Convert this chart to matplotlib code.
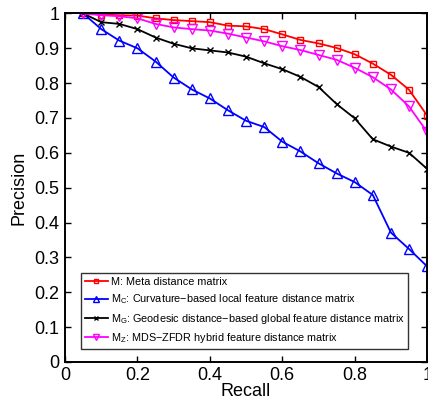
import matplotlib
matplotlib.use("Agg")
import matplotlib.pyplot as plt

plt.rcParams['font.family'] = ['Liberation Sans', 'DejaVu Sans']
plt.rcParams['mathtext.fontset'] = 'custom'
plt.rcParams['mathtext.rm'] = 'Liberation Sans'
plt.rcParams['mathtext.it'] = 'Liberation Sans'

recall = [0.05, 0.10, 0.15, 0.20, 0.25, 0.30, 0.35, 0.40, 0.45, 0.50,
          0.55, 0.60, 0.65, 0.70, 0.75, 0.80, 0.85, 0.90, 0.95, 1.00]

meta = [1.000, 0.997, 0.995, 0.994, 0.986, 0.981, 0.978, 0.975, 0.965, 0.963,
        0.955, 0.940, 0.924, 0.914, 0.901, 0.883, 0.856, 0.824, 0.781, 0.707]
curv = [1.000, 0.955, 0.922, 0.900, 0.862, 0.816, 0.782, 0.756, 0.722, 0.692,
        0.674, 0.632, 0.604, 0.570, 0.541, 0.516, 0.479, 0.371, 0.324, 0.274]
geod = [1.000, 0.975, 0.970, 0.955, 0.931, 0.913, 0.900, 0.894, 0.888, 0.876,
        0.857, 0.840, 0.818, 0.789, 0.740, 0.699, 0.639, 0.618, 0.600, 0.554]
mds = [1.000, 0.995, 0.992, 0.986, 0.970, 0.960, 0.955, 0.951, 0.942, 0.931,
       0.920, 0.906, 0.895, 0.881, 0.867, 0.844, 0.817, 0.782, 0.733, 0.660]

labels = [r'M: Meta distance matrix',
          r'M$_\mathrm{C}$: Curvature$-$based local feature distance matrix',
          r'M$_\mathrm{G}$: Geodesic distance$-$based global feature distance matrix',
          r'M$_\mathrm{Z}$: MDS$-$ZFDR hybrid feature distance matrix']

fig = plt.figure(figsize=(4.28, 4.08), dpi=100)
ax = fig.add_axes([0.152, 0.113, 0.846, 0.854])

ax.plot(recall, meta, color='#ff0000', marker='s', ms=4.5, mfc='none', mew=1.0, lw=1.3, label=labels[0])
ax.plot(recall, curv, color='#0000ff', marker='^', ms=7, mfc='none', mew=1.0, lw=1.3, label=labels[1])
ax.plot(recall, geod, color='#000000', marker='x', ms=4, mew=1.0, lw=1.3, label=labels[2])
ax.plot(recall, mds, color='#ff00ff', marker='v', ms=7, mfc='none', mew=1.0, lw=1.3, label=labels[3])

ax.set_xlim(0, 1)
ax.set_ylim(0, 1)
ax.set_xticks([0, 0.2, 0.4, 0.6, 0.8, 1])
ax.set_xticklabels(['0', '0.2', '0.4', '0.6', '0.8', '1'])
ax.set_yticks([i / 10 for i in range(11)])
ax.set_yticklabels(['0'] + ['%.1f' % (i / 10) for i in range(1, 10)] + ['1'])
ax.tick_params(direction='in', top=True, right=True, labelsize=13, length=4, width=1.0, pad=4)
for s in ax.spines.values():
    s.set_linewidth(1.4)

ax.set_xlabel('Recall', fontsize=13, labelpad=-1)
ax.set_ylabel('Precision', fontsize=13, labelpad=5)

leg = ax.legend(loc='lower left', bbox_to_anchor=(0.044, 0.037), fontsize=7.8,
                frameon=True, fancybox=False, edgecolor='black', handlelength=2.1,
                handletextpad=0.3, borderpad=0.35, labelspacing=0.5, borderaxespad=0,
                markerscale=0.7)
leg.get_frame().set_linewidth(1.0)

fig.savefig('out.png', dpi=100)
